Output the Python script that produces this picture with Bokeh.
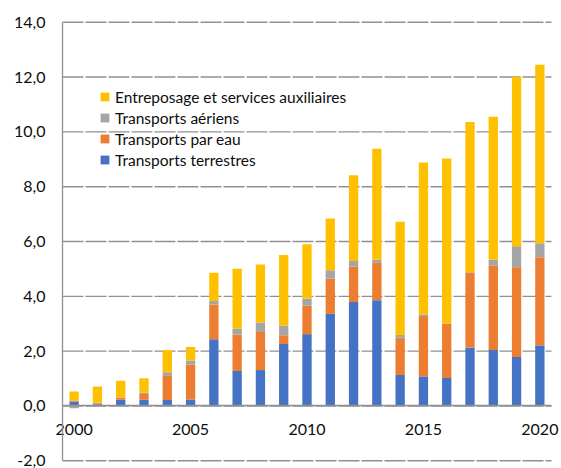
import numpy as np
from bokeh.plotting import figure
from bokeh.models import (ColumnDataSource, FixedTicker, Legend, LegendItem,
                          LinearAxis)
from bokeh.embed import file_html
from bokeh.resources import INLINE

years = list(range(2000, 2021))
terrestres = [0.16, 0.06, 0.23, 0.23, 0.22, 0.24, 2.43, 1.28, 1.31, 2.26, 2.62,
              3.36, 3.79, 3.86, 1.13, 1.08, 1.02, 2.13, 2.04, 1.79, 2.21]
par_eau = [0.04, 0.04, 0.07, 0.21, 0.90, 1.27, 1.27, 1.33, 1.39, 0.32, 1.04,
           1.29, 1.29, 1.36, 1.36, 2.20, 1.97, 2.72, 3.08, 3.27, 3.22]
aeriens = [-0.08, 0.03, 0.02, 0.05, 0.11, 0.15, 0.13, 0.22, 0.35, 0.35, 0.26,
           0.30, 0.21, 0.11, 0.10, 0.06, 0.02, 0.03, 0.21, 0.77, 0.51]
entreposage = [0.33, 0.58, 0.60, 0.52, 0.81, 0.49, 1.03, 2.18, 2.11, 2.58, 1.98,
               1.89, 3.13, 4.05, 4.13, 5.54, 6.02, 5.48, 5.22, 6.18, 6.51]

series_names = ["Transports terrestres", "Transports par eau",
                "Transports aériens", "Entreposage et services auxiliaires"]
series_values = [terrestres, par_eau, aeriens, entreposage]
colors = ["#4472C4", "#ED7D31", "#A5A5A5", "#FFC000"]

y_ticks = [-2, 0, 2, 4, 6, 8, 10, 12, 14]
y_tick_labels = ["-2,0", "0,0", "2,0", "4,0", "6,0", "8,0", "10,0", "12,0", "14,0"]
x_tick_years = [2000, 2005, 2010, 2015, 2020]
x_tick_labels = ["2000", "2005", "2010", "2015", "2020"]

FONT = "Lato"
TXT = "#0d0d0d"
GRID = "#909090"

# plot area (category band) and value span
x_lo, x_hi = years[0] - 0.5, years[-1] + 0.5
y_lo, y_hi = y_ticks[0], y_ticks[-1]

W, H = 561, 468
PL, PR, PT, PB = 62, 551, 21.7, 460.3        # pixel box of the plotted area
sx = (x_hi - x_lo) / (PR - PL)
sy = (y_hi - y_lo) / (PB - PT)
x_range = (x_lo - PL * sx, x_hi + (W - PR) * sx)
y_range = (y_lo - (H - PB) * sy, y_hi + PT * sy)

p = figure(width=W, height=H, output_backend="svg", toolbar_location=None,
           x_range=x_range, y_range=y_range,
           x_axis_location=None, y_axis_location=None,
           min_border_left=0, min_border_right=0, min_border_top=0,
           min_border_bottom=0)
p.outline_line_color = None
p.grid.visible = False

# dashed horizontal gridlines across the plotted area
p.segment(x0=[x_lo] * len(y_ticks), x1=[x_hi] * len(y_ticks), y0=y_ticks, y1=y_ticks,
          line_color=GRID, line_width=1.4, line_dash="21 2", level="underlay")

# value axis on the left edge of the plotted area
yax = LinearAxis(fixed_location=x_lo, bounds=(y_lo, y_hi),
                 ticker=FixedTicker(ticks=y_ticks),
                 major_label_overrides={t: l for t, l in zip(y_ticks, y_tick_labels)})
yax.major_tick_line_color = None
yax.minor_tick_line_color = None
yax.major_tick_out = 0
yax.major_label_standoff = 17
yax.axis_line_color = GRID
yax.axis_line_width = 1.3
yax.major_label_text_font = FONT
yax.major_label_text_font_size = "16px"
yax.major_label_text_color = TXT
p.add_layout(yax, "left")

pos_base = np.zeros(len(years))
neg_base = np.zeros(len(years))
renderers = []
for name, vals, col in zip(series_names, series_values, colors):
    v = np.array(vals, dtype=float)
    bottom = np.where(v >= 0, pos_base, neg_base)
    top = bottom + v
    pos_base = np.where(v >= 0, top, pos_base)
    neg_base = np.where(v < 0, top, neg_base)
    src = ColumnDataSource(dict(x=years, bottom=bottom, top=top))
    r = p.vbar(x="x", bottom="bottom", top="top", width=0.4, source=src,
               fill_color=col, line_color=None)
    renderers.append(r)

# category axis drawn at the zero line (labels next to the axis, as in Excel)
xax = LinearAxis(fixed_location=0, bounds=(x_lo, x_hi),
                 ticker=FixedTicker(ticks=x_tick_years),
                 major_label_overrides={t: l for t, l in zip(x_tick_years, x_tick_labels)})
xax.axis_line_color = GRID
xax.axis_line_width = 1.5
xax.major_tick_line_color = None
xax.minor_tick_line_color = None
xax.major_tick_out = 0
xax.major_label_standoff = 18
xax.major_label_text_font = FONT
xax.major_label_text_font_size = "16px"
xax.major_label_text_color = TXT
p.add_layout(xax, "below")

items = [LegendItem(label=n, renderers=[r]) for n, r in zip(series_names, renderers)][::-1]
legend = Legend(items=items, location=(99, 299), padding=0, spacing=2,
                label_height=19, glyph_width=11, glyph_height=11,
                label_standoff=5, border_line_color=None,
                background_fill_alpha=0, label_text_font=FONT,
                label_text_font_size="15.5px", label_text_color=TXT)
p.add_layout(legend, "center")

open("out.html", "w").write(file_html(p, INLINE))
